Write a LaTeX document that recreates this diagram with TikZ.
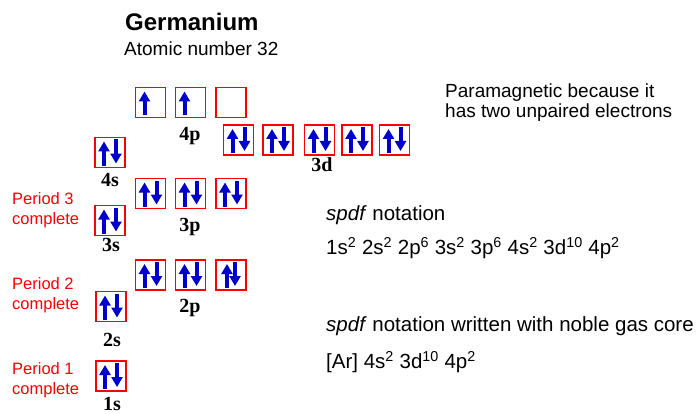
\documentclass[tikz,border=0pt]{standalone}
\usepackage{fontspec}
\setmainfont{Liberation Sans}
\newfontfamily\orbfont{Liberation Serif}
\usetikzlibrary{calc,arrows.meta}
\definecolor{spinblue}{RGB}{0,0,204}
\definecolor{boxred}{RGB}{255,0,0}

\tikzset{
  orb/.style={draw=boxred,line width=1.5pt,minimum size=30pt,inner sep=0pt},
  elec/.style={spinblue,line width=4pt,-{Triangle[width=11pt,length=10pt]}},
  lbl/.style={font=\orbfont\bfseries\fontsize{20}{20}\selectfont,inner sep=0pt},
  note/.style={red,font=\fontsize{16.5}{20}\selectfont,align=left,anchor=west,inner sep=0pt},
  txt/.style={font=\fontsize{20.5}{22}\selectfont,anchor=west,inner sep=0pt},
}

% electrons in an orbital box
\newcommand{\spinup}[2][-6]{\draw[elec] ($(#2.center)+(#1,13)$) -- ($(#2.center)+(#1,-11)$);}
\newcommand{\spindown}[2][6]{\draw[elec] ($(#2.center)+(#1,-13)$) -- ($(#2.center)+(#1,11)$);}
\newcommand{\spinpair}[1]{\spinup{#1}\spindown{#1}}

\begin{document}
\begin{tikzpicture}[x=1pt,y=-1pt]
  \useasboundingbox (0,0) rectangle (700,414);

  \node[anchor=west,inner sep=0pt,font=\bfseries\fontsize{24}{24}\selectfont]
    (title) at (125,22) {Germanium};
  \node[anchor=west,inner sep=0pt,font=\fontsize{19}{19}\selectfont]
    (znum) at (124,49) {Atomic number 32};

  % 4p
  \foreach \xd/\nm in {150.5/p4a,190.5/p4b,231/p4c}{
    \node[orb] (\nm) at (\xd,102.5) {};
  }
  \spinup{p4a}
  \spinup{p4b}
  \node[lbl] (l4p) at (190,136) {4p};

  % 3d
  \foreach \xd/\nm in {238.5/d3a,278/d3b,319.5/d3c,357/d3d,394.5/d3e}{
    \node[orb] (\nm) at (\xd,140) {};
    \spinpair{\nm}
  }
  \node[lbl] (l3d) at (322,165) {3d};

  % 4s
  \node[orb] (s4) at (110,152.5) {};
  \spinpair{s4}
  \node[lbl] (l4s) at (110,180) {4s};

  % 3p
  \foreach \xd/\nm in {150.5/p3a,190.5/p3b,231/p3c}{
    \node[orb] (\nm) at (\xd,193.5) {};
    \spinpair{\nm}
  }
  \node[lbl] (l3p) at (190,227) {3p};

  % 3s
  \node[orb] (s3) at (110,220.5) {};
  \spinpair{s3}
  \node[lbl] (l3s) at (111,245) {3s};

  % 2p
  \foreach \xd/\nm in {150.5/p2a,190.5/p2b}{
    \node[orb] (\nm) at (\xd,275) {};
    \spinpair{\nm}
  }
  \node[orb] (p2c) at (231,275) {};
  \spinup[-4]{p2c}
  \spindown[4]{p2c}
  \node[lbl] (l2p) at (190,308) {2p};

  % 2s and 1s
  \node[orb] (s2) at (111,306.5) {};
  \spinpair{s2}
  \node[lbl] (l2s) at (112,340) {2s};
  \node[orb] (s1) at (111,376) {};
  \spinpair{s1}
  \node[lbl] (l1s) at (112,403.5) {1s};

  % periods
  \node[note] (per3) at (12,210) {Period 3\\complete};
  \node[note] (per2) at (12,295) {Period 2\\complete};
  \node[note] (per1) at (12,380) {Period 1\\complete};

  \node[anchor=west,inner sep=0pt,align=left,font=\fontsize{19}{20}\selectfont]
    (para) at (445,103) {Paramagnetic because it\\has two unpaired electrons};

  \node[txt] (spdf) at (326,215) {\textit{spdf} notation};
  \node[txt] (full) at (326,248)
    {1s\textsuperscript{2} 2s\textsuperscript{2} 2p\textsuperscript{6} 3s\textsuperscript{2} 3p\textsuperscript{6} 4s\textsuperscript{2} 3d\textsuperscript{10} 4p\textsuperscript{2}};
  \node[txt] (core) at (326,326) {\textit{spdf} notation written with noble gas core};
  \node[txt] (short) at (326,362)
    {[Ar] 4s\textsuperscript{2} 3d\textsuperscript{10} 4p\textsuperscript{2}};

\end{tikzpicture}
\end{document}
